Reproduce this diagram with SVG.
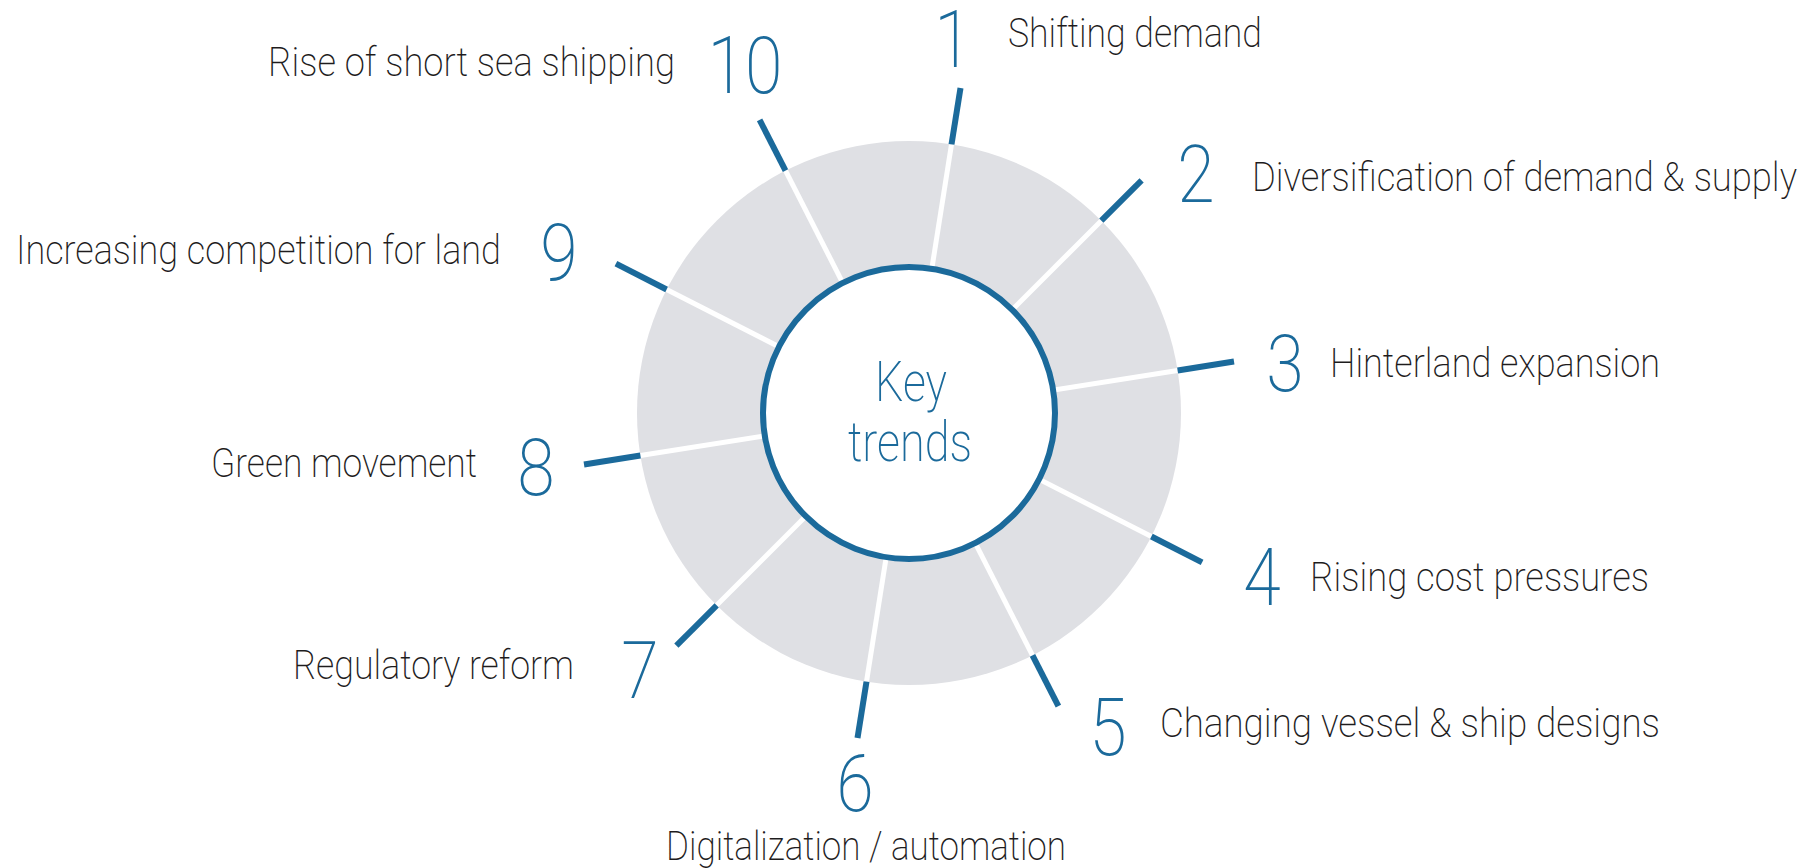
<svg xmlns="http://www.w3.org/2000/svg" width="1817" height="868" viewBox="0 0 1817 868">
  <style>
    .ring { fill: #dfe0e4; }
    .hub { fill: #ffffff; stroke: #1b6a9b; stroke-width: 6; }
    .spoke { stroke: #ffffff; stroke-width: 5; }
    .tick { stroke: #1b6a9b; stroke-width: 6; stroke-linecap: butt; }
    .num { font-family: Roboto, "Open Sans", "Liberation Sans", sans-serif; font-weight: 200; font-size: 80px; fill: #1b6a9b; text-anchor: middle; }
    .label { font-family: Roboto, "Open Sans", "Liberation Sans", sans-serif; font-weight: 200; font-size: 40px; fill: #1e1c1d; }
    .center { font-family: Roboto, "Open Sans", "Liberation Sans", sans-serif; font-weight: 200; font-size: 56px; fill: #1b6a9b; text-anchor: middle; }
  </style>

  <!-- grey ring behind the hub -->
  <circle class="ring" cx="909" cy="413" r="272"/>

  <!-- spokes (white inside the ring) and blue ticks outside it -->
  <g id="connectors">
    <line class="spoke" x1="909" y1="413" x2="951.5" y2="144.4"/>
    <line class="spoke" x1="909" y1="413" x2="1101.3" y2="220.7"/>
    <line class="spoke" x1="909" y1="413" x2="1177.6" y2="370.5"/>
    <line class="spoke" x1="909" y1="413" x2="1151.4" y2="536.5"/>
    <line class="spoke" x1="909" y1="413" x2="1032.5" y2="655.4"/>
    <line class="spoke" x1="909" y1="413" x2="866.5" y2="681.6"/>
    <line class="spoke" x1="909" y1="413" x2="716.7" y2="605.3"/>
    <line class="spoke" x1="909" y1="413" x2="640.4" y2="455.5"/>
    <line class="spoke" x1="909" y1="413" x2="666.6" y2="289.5"/>
    <line class="spoke" x1="909" y1="413" x2="785.5" y2="170.6"/>

    <line class="tick" x1="951.5" y1="144.4" x2="960.5" y2="88"/>
    <line class="tick" x1="1101.3" y1="220.7" x2="1141.6" y2="180.4"/>
    <line class="tick" x1="1177.6" y1="370.5" x2="1234" y2="361.5"/>
    <line class="tick" x1="1151.4" y1="536.5" x2="1202.1" y2="562.4"/>
    <line class="tick" x1="1032.5" y1="655.4" x2="1058.4" y2="706.1"/>
    <line class="tick" x1="866.5" y1="681.6" x2="857.5" y2="738"/>
    <line class="tick" x1="716.7" y1="605.3" x2="676.4" y2="645.6"/>
    <line class="tick" x1="640.4" y1="455.5" x2="584" y2="464.5"/>
    <line class="tick" x1="666.6" y1="289.5" x2="615.9" y2="263.6"/>
    <line class="tick" x1="785.5" y1="170.6" x2="759.6" y2="119.9"/>
  </g>

  <g id="hub">
    <circle class="hub" cx="909" cy="413" r="146"/>
    <text class="center" x="911" y="401" textLength="72" lengthAdjust="spacingAndGlyphs">Key</text>
    <text class="center" x="910" y="461" textLength="124" lengthAdjust="spacingAndGlyphs">trends</text>
  </g>

  <!-- labels are narrowed with scale(0.88 1); textLength is given in the unscaled units -->
  <g id="trend-1">
    <text class="num" transform="translate(953 67) scale(0.85 1)">1</text>
    <text class="label" transform="translate(1008 47) scale(0.88 1)" textLength="288.6" lengthAdjust="spacingAndGlyphs">Shifting demand</text>
  </g>
  <g id="trend-2">
    <text class="num" transform="translate(1196 202) scale(0.85 1)">2</text>
    <text class="label" transform="translate(1252 191) scale(0.88 1)" textLength="619.3" lengthAdjust="spacingAndGlyphs">Diversification of demand &amp; supply</text>
  </g>
  <g id="trend-3">
    <text class="num" transform="translate(1285 391) scale(0.85 1)">3</text>
    <text class="label" transform="translate(1330 377) scale(0.88 1)" textLength="375" lengthAdjust="spacingAndGlyphs">Hinterland expansion</text>
  </g>
  <g id="trend-4">
    <text class="num" transform="translate(1262 605) scale(0.85 1)">4</text>
    <text class="label" transform="translate(1310 591) scale(0.88 1)" textLength="385.2" lengthAdjust="spacingAndGlyphs">Rising cost pressures</text>
  </g>
  <g id="trend-5">
    <text class="num" transform="translate(1108 755) scale(0.85 1)">5</text>
    <text class="label" transform="translate(1160 737) scale(0.88 1)" textLength="568.2" lengthAdjust="spacingAndGlyphs">Changing vessel &amp; ship designs</text>
  </g>
  <g id="trend-6">
    <text class="num" transform="translate(855 811) scale(0.85 1)">6</text>
    <text class="label" transform="translate(666 860) scale(0.88 1)" textLength="454.5" lengthAdjust="spacingAndGlyphs">Digitalization / automation</text>
  </g>
  <g id="trend-7">
    <text class="num" transform="translate(640 698) scale(0.85 1)">7</text>
    <text class="label" transform="translate(293 679) scale(0.88 1)" textLength="319.3" lengthAdjust="spacingAndGlyphs">Regulatory reform</text>
  </g>
  <g id="trend-8">
    <text class="num" transform="translate(536 495) scale(0.85 1)">8</text>
    <text class="label" transform="translate(211 477) scale(0.88 1)" textLength="302.3" lengthAdjust="spacingAndGlyphs">Green movement</text>
  </g>
  <g id="trend-9">
    <text class="num" transform="translate(559 280) scale(0.85 1)">9</text>
    <text class="label" transform="translate(16 264) scale(0.88 1)" textLength="551.1" lengthAdjust="spacingAndGlyphs">Increasing competition for land</text>
  </g>
  <g id="trend-10">
    <text class="num" transform="translate(745 93) scale(0.85 1)">10</text>
    <text class="label" transform="translate(268 76) scale(0.88 1)" textLength="462.5" lengthAdjust="spacingAndGlyphs">Rise of short sea shipping</text>
  </g>
</svg>
